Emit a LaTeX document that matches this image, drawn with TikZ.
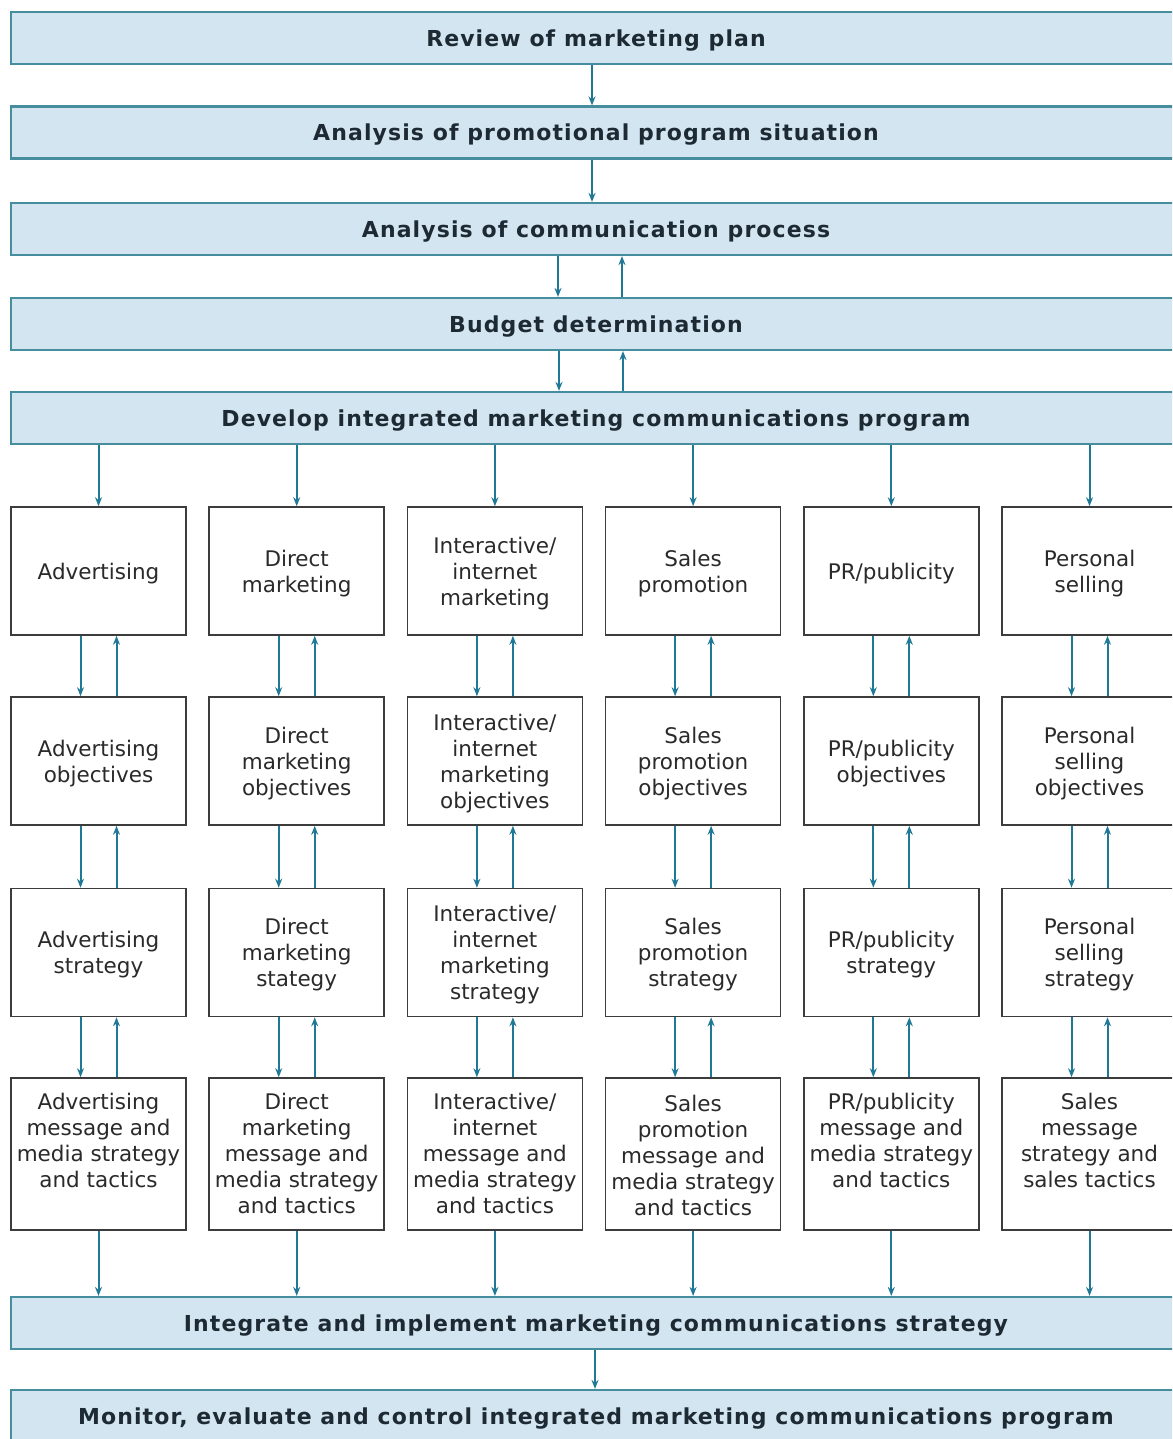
\documentclass[tikz,border=0pt]{standalone}
\usepackage{fontspec}
\setmainfont{DejaVu Sans}
\newfontfamily\barfont{DejaVu Sans}[LetterSpace=5]
\usetikzlibrary{arrows.meta}
\definecolor{barfill}{HTML}{D2E5F0}
\definecolor{barline}{HTML}{468E9E}
\definecolor{arrowc}{HTML}{1F7896}
\definecolor{boxline}{HTML}{3C3C3C}
\definecolor{bartext}{HTML}{1E2A33}
\definecolor{boxtext}{HTML}{2A2A2A}
\begin{document}
\begin{tikzpicture}[x=1pt,y=-1pt,
  bar/.style={draw=barline, line width=2.2pt, fill=barfill, minimum width=1170pt,
    minimum height=52pt, inner sep=0pt, text=bartext, text depth=0pt,
    font=\barfont\bfseries\fontsize{22}{26}\selectfont},
  box/.style={draw=boxline, line width=1.6pt, minimum width=175pt,
    minimum height=128pt, inner sep=0pt, align=center, text=boxtext,
    text depth=0pt, font=\fontsize{21.5}{26}\selectfont},
  tallbox/.style={box, minimum height=152pt},
  boxlabel/.style={inner sep=0pt, align=center, text=boxtext, anchor=north,
    font=\fontsize{21.5}{26}\selectfont},
  arr/.style={draw=arrowc, line width=2pt, -{Stealth[length=9pt,width=7pt]}}]
\clip (0,0) rectangle (1172,1439);
\fill[white] (0,0) rectangle (1172,1439);
% bars
\node[bar] (b1) at (596,38) {Review of marketing plan};
\node[bar] (b2) at (596,132.5) {Analysis of promotional program situation};
\node[bar] (b3) at (596,229) {Analysis of communication process};
\node[bar] (b4) at (596,324) {Budget determination};
\node[bar] (b5) at (596,418) {Develop integrated marketing communications program};
\node[bar] (b6) at (596,1323) {Integrate and implement marketing communications strategy};
\node[bar] (b7) at (596,1416) {Monitor, evaluate and control integrated marketing communications program};
% row 1
\node[box] (a1) at (98.5,571) {Advertising};
\node[box] (a2) at (296.7,571) {Direct\\marketing};
\node[box] (a3) at (494.9,571) {Interactive/\\internet\\marketing};
\node[box] (a4) at (693.1,571) {Sales\\promotion};
\node[box] (a5) at (891.3,571) {PR/publicity};
\node[box] (a6) at (1089.5,571) {Personal\\selling};
% row 2
\node[box] (o1) at (98.5,761) {Advertising\\objectives};
\node[box] (o2) at (296.7,761) {Direct\\marketing\\objectives};
\node[box] (o3) at (494.9,761) {Interactive/\\internet\\marketing\\objectives};
\node[box] (o4) at (693.1,761) {Sales\\promotion\\objectives};
\node[box] (o5) at (891.3,761) {PR/publicity\\objectives};
\node[box] (o6) at (1089.5,761) {Personal\\selling\\objectives};
% row 3
\node[box] (s1) at (98.5,952.5) {Advertising\\strategy};
\node[box] (s2) at (296.7,952.5) {Direct\\marketing\\stategy};
\node[box] (s3) at (494.9,952.5) {Interactive/\\internet\\marketing\\strategy};
\node[box] (s4) at (693.1,952.5) {Sales\\promotion\\strategy};
\node[box] (s5) at (891.3,952.5) {PR/publicity\\strategy};
\node[box] (s6) at (1089.5,952.5) {Personal\\selling\\strategy};
% row 4
\node[tallbox] (m1) at (98.5,1154) {};
\node[tallbox] (m2) at (296.7,1154) {};
\node[tallbox] (m3) at (494.9,1154) {};
\node[tallbox] (m4) at (693.1,1154) {};
\node[tallbox] (m5) at (891.3,1154) {};
\node[tallbox] (m6) at (1089.5,1154) {};
\node[boxlabel] (t1) at ([yshift=-16pt]m1.north) {Advertising\\message and\\media strategy\\and tactics};
\node[boxlabel] (t2) at ([yshift=-16pt]m2.north) {Direct\\marketing\\message and\\media strategy\\and tactics};
\node[boxlabel] (t3) at ([yshift=-16pt]m3.north) {Interactive/\\internet\\message and\\media strategy\\and tactics};
\node[boxlabel] (t4) at ([yshift=-18pt]m4.north) {Sales\\promotion\\message and\\media strategy\\and tactics};
\node[boxlabel] (t5) at ([yshift=-16pt]m5.north) {PR/publicity\\message and\\media strategy\\and tactics};
\node[boxlabel] (t6) at ([yshift=-16pt]m6.north) {Sales\\message\\strategy and\\sales tactics};
% bar arrows
\draw[arr] ([xshift=-4pt]b1.south) -- ([xshift=-4pt]b2.north);
\draw[arr] ([xshift=-4pt]b2.south) -- ([xshift=-4pt]b3.north);
\draw[arr] ([xshift=-38pt]b3.south) -- ([xshift=-38pt]b4.north);
\draw[arr] ([xshift=26pt]b4.north) -- ([xshift=26pt]b3.south);
\draw[arr] ([xshift=-37pt]b4.south) -- ([xshift=-37pt]b5.north);
\draw[arr] ([xshift=27pt]b5.north) -- ([xshift=27pt]b4.south);
\draw[arr] ([xshift=-1pt]b6.south) -- ([xshift=-1pt]b7.north);
% columns
\foreach \c in {1,...,6} {
  \draw[arr] (b5.south -| a\c.north) -- (a\c.north);
  \draw[arr] ([xshift=-18pt]a\c.south) -- ([xshift=-18pt]o\c.north);
  \draw[arr] ([xshift=18pt]o\c.north) -- ([xshift=18pt]a\c.south);
  \draw[arr] ([xshift=-18pt]o\c.south) -- ([xshift=-18pt]s\c.north);
  \draw[arr] ([xshift=18pt]s\c.north) -- ([xshift=18pt]o\c.south);
  \draw[arr] ([xshift=-18pt]s\c.south) -- ([xshift=-18pt]m\c.north);
  \draw[arr] ([xshift=18pt]m\c.north) -- ([xshift=18pt]s\c.south);
  \draw[arr] (m\c.south) -- (b6.north -| m\c.south);
}
\end{tikzpicture}
\end{document}
